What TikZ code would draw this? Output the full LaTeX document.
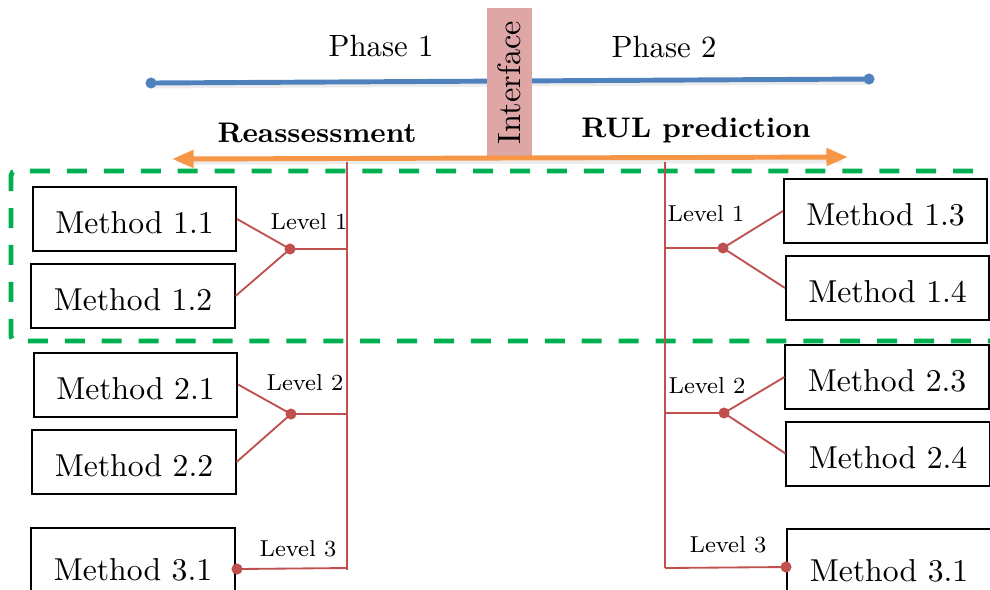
\documentclass[tikz,border=0pt]{standalone}
\usetikzlibrary{arrows.meta}
\definecolor{phaseblue}{RGB}{79,129,189}
\definecolor{ifacepink}{RGB}{223,166,166}
\definecolor{arroworange}{RGB}{247,150,70}
\definecolor{levelred}{RGB}{192,80,77}
\definecolor{groupgreen}{RGB}{0,176,80}
\begin{document}
\begin{tikzpicture}[x=0.325pt,y=-0.325pt,
  method/.style={draw=black,line width=0.65pt,minimum width=66pt,minimum height=20.8pt,inner sep=0pt,
    text height=9.6pt,text depth=0pt,font=\fontsize{10.3}{12}\selectfont},
  tall/.style={minimum height=24.7pt},
  lvl/.style={font=\fontsize{7.5}{9}\selectfont,inner sep=0pt},
  phase/.style={font=\fontsize{10}{12}\selectfont,inner sep=0pt},
  bigbold/.style={font=\fontsize{9.2}{11}\selectfont\bfseries,inner sep=0pt},
  link/.style={draw=levelred,line width=0.6pt},
  hub/.style={circle,fill=levelred,inner sep=0pt,minimum size=3.6pt},
  softshadow/.style={black!30,opacity=0.25,line width=1.6pt},
]
\useasboundingbox (0,0) rectangle (990,589);

% phase timeline with its soft shadow
\draw[softshadow] (153,86) -- (871,82);
\coordinate (p1) at (151,83);
\coordinate (p2) at (869,79);
\draw[phaseblue,line width=1.6pt] (p1) -- (p2);
\fill[phaseblue] (p1) circle (1.8pt) (p2) circle (1.8pt);

% interface band
\node[fill=ifacepink,minimum width=14.6pt,minimum height=48.4pt,inner sep=0pt] (iface) at (509.5,82.5) {};
\node[rotate=90,font=\fontsize{10.5}{12}\selectfont] at (iface.center) {Interface};

\node[phase] (ph1) at (381,46) {Phase 1};
\node[phase] (ph2) at (664,47) {Phase 2};

% two-way task arrow
\draw[softshadow] (182,162) -- (842,161);
\coordinate (aL) at (172,159);
\coordinate (aR) at (848,157);
\draw[arroworange,line width=1.6pt,{Triangle[length=7pt,width=5.5pt]}-{Triangle[length=7pt,width=5.5pt]}] (aL) -- (aR);

\node[bigbold] (reas) at (317,133) {Reassessment};
\node[bigbold] (rul) at (696,130) {RUL prediction};

% level-1 group frame
\draw[groupgreen,line width=1.6pt,dash pattern=on 6.5pt off 5.5pt,rounded corners=1.5pt]
  (1010,171) -- (11,171) -- (11,341) -- (1010,341);

% trunks
\coordinate (lt) at (347,162);
\coordinate (lb) at (347,570);
\coordinate (rt) at (665,162);
\coordinate (rb) at (665,568);
\draw[link] (lt) -- (lb);
\draw[link] (rt) -- (rb);

% left branch
\node[method] (m11) at (134.5,219) {Method 1.1};
\node[method] (m12) at (133,296) {Method 1.2};
\node[method] (m21) at (135.5,384.5) {Method 2.1};
\node[method] (m22) at (134,462) {Method 2.2};
\node[method,tall] (m31l) at (133,566) {Method 3.1};

\node[hub] (h1l) at (290,249) {};
\node[hub] (h2l) at (291,414) {};
\node[hub] (h3l) at (237,569) {};
\coordinate (j1l) at (347,249);
\coordinate (j2l) at (347,414);
\coordinate (j3l) at (347,568);

\draw[link] (m11.east) -- (h1l.center) -- (m12.east);
\draw[link] (h1l.center) -- (j1l);
\draw[link] (m21.east) -- (h2l.center) -- (m22.east);
\draw[link] (h2l.center) -- (j2l);
\draw[link] (h3l.center) -- (j3l);

\node[lvl] (l1l) at (309,222) {Level 1};
\node[lvl] (l2l) at (305,383) {Level 2};
\node[lvl] (l3l) at (298,549) {Level 3};

% right branch
\node[method] (m13) at (885.5,211) {Method 1.3};
\node[method] (m14) at (887.5,288) {Method 1.4};
\node[method] (m23) at (887,377) {Method 2.3};
\node[method] (m24) at (888,453.5) {Method 2.4};
\node[method,tall] (m31r) at (889,567) {Method 3.1};

\node[hub] (h1r) at (723,248) {};
\node[hub] (h2r) at (724,413) {};
\node[hub] (h3r) at (786,567) {};
\coordinate (j1r) at (665,248);
\coordinate (j2r) at (665,413);
\coordinate (j3r) at (665,568);

\draw[link] (m13.west) -- (h1r.center) -- (m14.west);
\draw[link] (j1r) -- (h1r.center);
\draw[link] (m23.west) -- (h2r.center) -- (m24.west);
\draw[link] (j2r) -- (h2r.center);
\draw[link] (j3r) -- (h3r.center);

\node[lvl] (l1r) at (706,214) {Level 1};
\node[lvl] (l2r) at (707,386) {Level 2};
\node[lvl] (l3r) at (728,545) {Level 3};
\end{tikzpicture}
\end{document}
